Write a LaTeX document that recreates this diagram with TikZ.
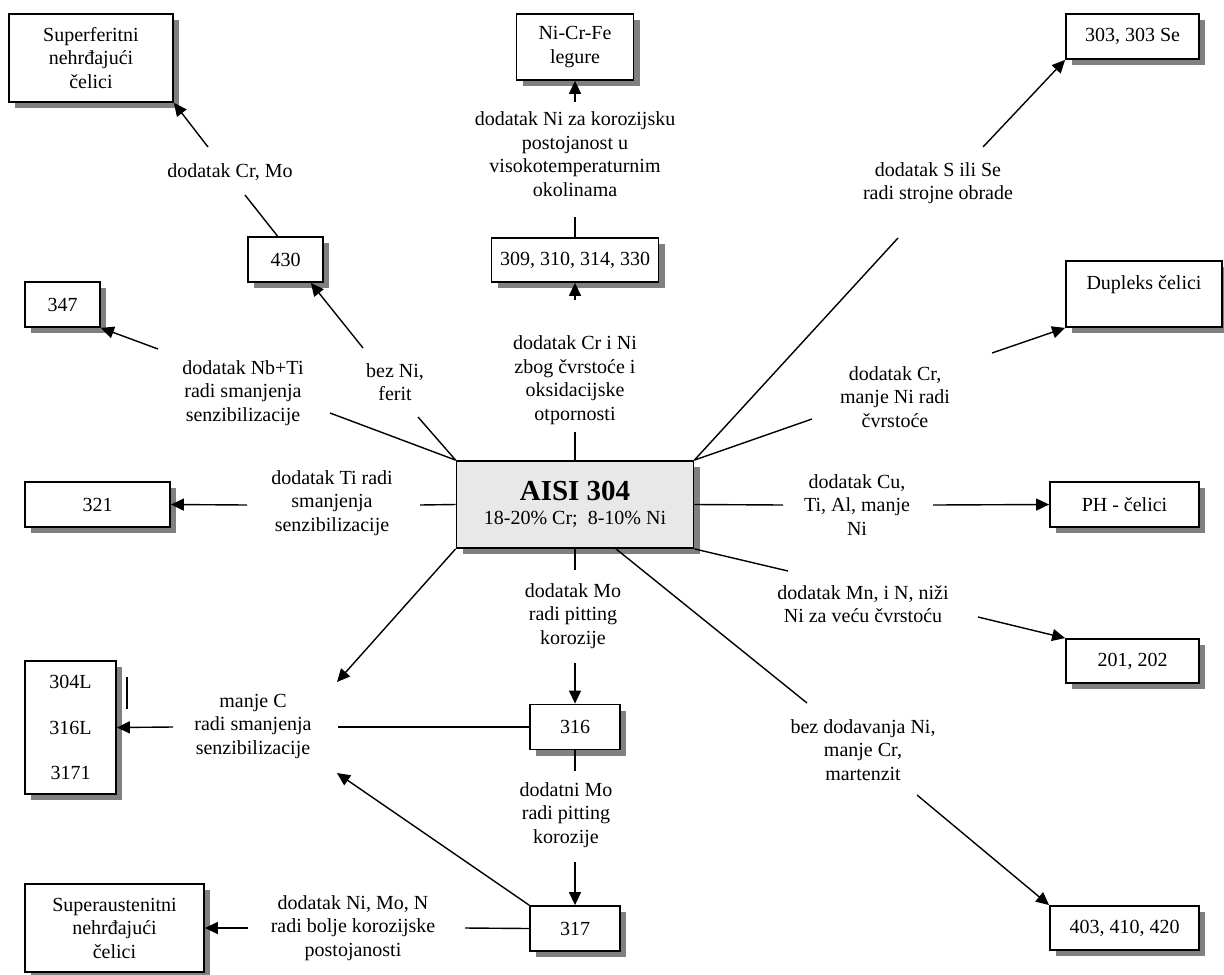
\documentclass[tikz,border=0pt]{standalone}
\usepackage{fontspec}
\setmainfont{Liberation Serif}
\usetikzlibrary{arrows.meta,shadows}
\definecolor{shd}{RGB}{128,128,128}
\definecolor{aisifill}{RGB}{232,232,232}
\tikzset{
  box/.style={draw=black, line width=0.9pt, fill=white, align=center, inner sep=0pt,
    drop shadow={shadow xshift=3pt, shadow yshift=-3pt, fill=shd, opacity=1},
    font=\fontsize{10}{11.75}\selectfont},
  lbl/.style={align=center, inner sep=0pt, font=\fontsize{10}{11.75}\selectfont},
  con/.style={line width=0.7pt},
  arr/.style={con, -{Triangle[length=6.5pt,width=6pt]}},
}
\begin{document}
\begin{tikzpicture}[x=0.5pt,y=-0.5pt]
\useasboundingbox (0,0) rectangle (1224,974);
% boxes
\node[box, minimum width=82pt, minimum height=44pt] (sf) at (91,58) {Superferitni\\nehrđajući\\čelici};
\node[box, minimum width=58.5pt, minimum height=33pt] (ncf) at (575,47) {Ni-Cr-Fe\\legure};
\node[box, minimum width=83.5pt, minimum height=22pt] (b309) at (575,260) {309, 310, 314, 330};
\node[box, minimum width=66.5pt, minimum height=22.5pt] (b303) at (1132.5,36.5) {303, 303 Se};
\node[box, minimum width=37.5pt, minimum height=22.5pt] (b430) at (285.5,259.5) {430};
\node[box, minimum width=37.5pt, minimum height=22.5pt] (b347) at (62.5,304.5) {347};
\node[box, minimum width=78pt, minimum height=33pt] (dup) at (1144,294) {Dupleks čelici\\\mbox{}};
\node[box, minimum width=72.5pt, minimum height=22.5pt] (b321) at (97.5,504.5) {321};
\node[box, fill=aisifill, minimum width=118.5pt, minimum height=43.5pt] (aisi) at (575,504.5)
  {{\fontsize{14.5}{15}\selectfont\bfseries AISI 304}\\[0.5pt]18-20\% Cr;\ \ 8-10\% Ni};
\node[box, minimum width=74.5pt, minimum height=22.5pt] (ph) at (1124.5,504.5) {PH - čelici};
\node[box, minimum width=66.5pt, minimum height=22pt] (b201) at (1132.5,661) {201, 202};
\node[box, minimum width=74.5pt, minimum height=22pt] (b403) at (1124.5,928) {403, 410, 420};
\node[box, minimum width=45.5pt, minimum height=66.5pt] (b304) at (70.5,727.5) {304L\\[11pt]316L\\[11pt]3171};
\node[box, minimum width=89.5pt, minimum height=44pt] (sa) at (114.5,928) {Superaustenitni\\nehrđajući\\čelici};
\node[box, minimum width=45pt, minimum height=22.5pt] (b316) at (575,727) {316};
\node[box, minimum width=45pt, minimum height=22.5pt] (b317) at (575,928.5) {317};
% labels
\node[lbl] (lCrMo) at (230,172) {dodatak Cr, Mo};
\node[lbl] (lNiKor) at (575,154) {dodatak Ni za korozijsku\\postojanost u\\visokotemperaturnim\\okolinama};
\node[lbl] (lSSe) at (938,183) {dodatak S ili Se\\radi strojne obrade};
\node[lbl] (lNbTi) at (243,393) {dodatak Nb+Ti\\radi smanjenja\\senzibilizacije};
\node[lbl] (lbezNi) at (395,382) {bez Ni,\\ferit};
\node[lbl] (lCrNi) at (575,380) {dodatak Cr i Ni\\zbog čvrstoće i\\oksidacijske\\otpornosti};
\node[lbl] (lCrManje) at (895,397) {dodatak Cr,\\manje Ni radi\\čvrstoće};
\node[lbl] (lTi) at (332,503) {dodatak Ti radi\\smanjenja\\senzibilizacije};
\node[lbl] (lCu) at (857,505) {dodatak Cu,\\Ti, Al, manje\\Ni};
\node[lbl] (lMn) at (863,604) {dodatak Mn, i N, niži\\Ni za veću čvrstoću};
\node[lbl] (lMo) at (573,616) {dodatak Mo\\radi pitting\\korozije};
\node[lbl] (lC) at (253,726) {manje C\\radi smanjenja\\senzibilizacije};
\node[lbl] (lbezdod) at (863,750) {bez dodavanja Ni,\\manje Cr,\\martenzit};
\node[lbl] (lMo2) at (566,815) {dodatni Mo\\radi pitting\\korozije};
\node[lbl] (lNiMoN) at (353,928) {dodatak Ni, Mo, N\\radi bolje korozijske\\postojanosti};
% break coordinates
\coordinate (a1) at (575,432);   \coordinate (a2) at (575,300);
\coordinate (a3) at (575,217);   \coordinate (a4) at (575,102);
\coordinate (a5) at (418,417);   \coordinate (a6) at (363,348);
\coordinate (a7) at (245,195);   \coordinate (a8) at (208,147);
\coordinate (a9) at (330,413);   \coordinate (a10) at (158,349);
\coordinate (a11) at (420,505);  \coordinate (a12) at (247,505);
\coordinate (a13) at (337,682);  \coordinate (a14) at (173,727);
\coordinate (a15) at (338,727);  \coordinate (a16) at (337,773);
\coordinate (a17) at (127,677);  \coordinate (a18) at (127,709);
\coordinate (a19) at (575,570);  \coordinate (a20) at (575,663);
\coordinate (a21) at (575,771);  \coordinate (a22) at (575,862);
\coordinate (a23) at (465,928);  \coordinate (a24) at (248,928);
\coordinate (a25) at (898,238);  \coordinate (a26) at (983,147);
\coordinate (a27) at (812,419);  \coordinate (a28) at (992,353);
\coordinate (a29) at (783,505);  \coordinate (a30) at (933,505);
\coordinate (a31) at (788,571);  \coordinate (a32) at (978,617);
\coordinate (a33) at (807,703);  \coordinate (a34) at (917,795);
% connectors
\draw[con] (aisi.north) -- (a1);  \draw[arr] (a2) -- (b309.south);
\draw[con] (b309.north) -- (a3);  \draw[arr] (a4) -- (ncf.south);
\draw[con] (aisi.north west) -- (a5);  \draw[arr] (a6) -- ([xshift=-6.5pt]b430.south east);
\draw[con] ([xshift=-4pt]b430.north) -- (a7);  \draw[arr] (a8) -- (sf.south east);
\draw[con] (aisi.north west) -- (a9);  \draw[arr] (a10) -- (b347.south east);
\draw[con] (aisi.west) -- (a11);  \draw[arr] (a12) -- (b321.east);
\draw[arr] (aisi.south west) -- (a13);
\draw[arr] (a14) -- (b304.east);
\draw[con] (b316.west) -- (a15);
\draw[arr] (b317.north west) -- (a16);
\draw[con] (a17) -- (a18);
\draw[con] (aisi.south) -- (a19);  \draw[arr] (a20) -- (b316.north);
\draw[con] (b316.south) -- (a21);  \draw[arr] (a22) -- (b317.north);
\draw[con] (b317.west) -- (a23);  \draw[arr] (a24) -- (sa.east);
\draw[con] (aisi.north east) -- (a25);  \draw[arr] (a26) -- (b303.south west);
\draw[con] (aisi.north east) -- (a27);  \draw[arr] (a28) -- (dup.south west);
\draw[con] (aisi.east) -- (a29);  \draw[arr] (a30) -- (ph.west);
\draw[con] (aisi.south east) -- (a31);  \draw[arr] (a32) -- (b201.north west);
\draw[con] ([xshift=20.5pt]aisi.south) -- (a33);  \draw[arr] (a34) -- (b403.north west);
\end{tikzpicture}
\end{document}
